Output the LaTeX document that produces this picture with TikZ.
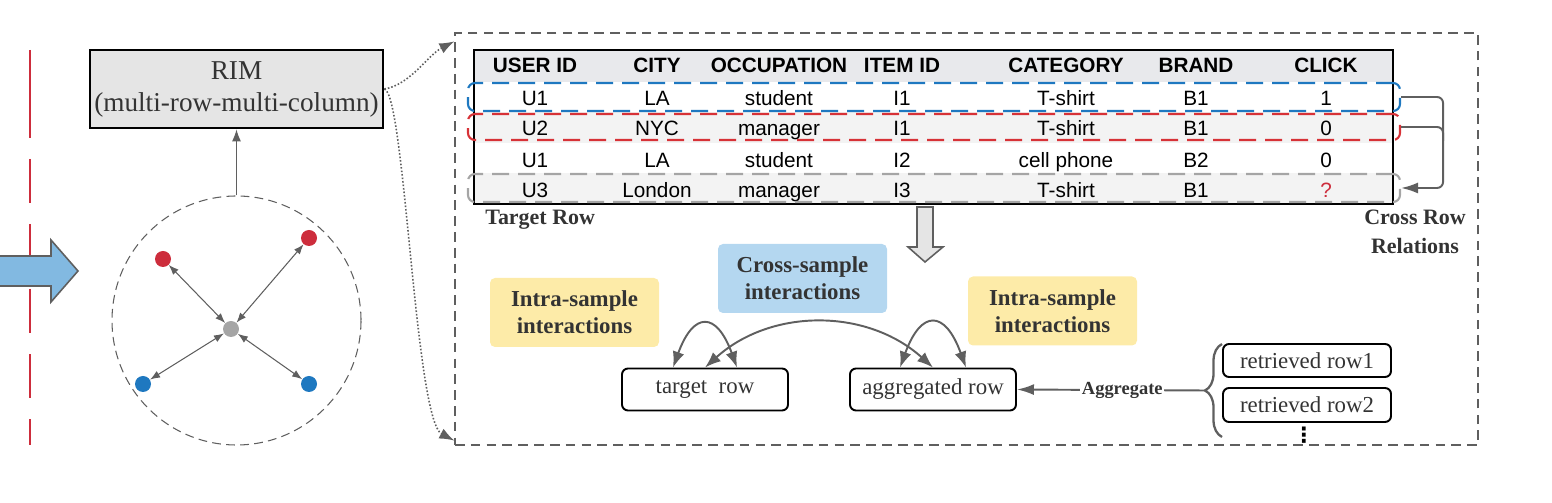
\documentclass[tikz,border=0pt]{standalone}
\usepackage{fontspec}
\setmainfont{Liberation Serif}
\setsansfont{Liberation Sans}
\newfontfamily\symfont{DejaVu Sans}
\usetikzlibrary{positioning, arrows.meta, calc, decorations.pathreplacing}

\definecolor{qred}{RGB}{205,45,60}
\definecolor{qredhl}{RGB}{215,50,55}
\definecolor{qblue}{RGB}{30,120,192}
\definecolor{qgray}{RGB}{165,165,165}
\definecolor{qdark}{RGB}{51,51,51}
\definecolor{qline}{RGB}{95,95,95}
\definecolor{qbox}{RGB}{229,229,229}
\definecolor{qhead}{RGB}{232,233,236}
\definecolor{qstripe}{RGB}{243,243,243}
\definecolor{qyellow}{RGB}{253,235,168}
\definecolor{qsky}{RGB}{180,215,240}
\definecolor{qarrow}{RGB}{130,185,225}

\tikzset{
  rimbox/.style={draw, line width=1.6pt, fill=qbox, minimum width=5.86cm, minimum height=1.56cm,
    inner sep=1pt, align=center, text=qdark, font=\fontsize{15.5}{18.2}\selectfont},
  cloud/.style={draw=qline, circle, line width=0.6pt, dash pattern=on 5pt off 3pt, minimum size=4.98cm},
  dot/.style={circle, minimum size=0.32cm, inner sep=0pt},
  thinarrow/.style={draw=qline, line width=0.6pt, -{Latex[length=0.24cm, width=0.18cm]}},
  duo/.style={draw=qline, line width=0.6pt, {Latex[length=0.2cm, width=0.15cm]}-{Latex[length=0.2cm, width=0.15cm]}},
  dotlink/.style={draw=qline, line width=0.9pt, dash pattern=on 0.9pt off 1.1pt, -{Latex[length=0.3cm, width=0.22cm]}},
  panel/.style={draw=qline, line width=0.7pt, dash pattern=on 5.5pt off 3.5pt, minimum width=20.46cm, minimum height=8.24cm},
  celltext/.style={anchor=base, inner sep=0pt, font=\fontsize{11.8}{14}\sffamily},
  headtext/.style={celltext, font=\fontsize{11.8}{14}\sffamily\bfseries},
  hilite/.style={draw, line width=1.2pt, dash pattern=on 0.34cm off 0.18cm, rounded corners=0.14cm,
    minimum width=18.64cm, inner sep=0pt},
  bus/.style={draw=qline, line width=1.1pt, rounded corners=0.12cm},
  tag/.style={font=\fontsize{12.5}{16.5}\selectfont\bfseries, text=qdark, align=center, inner sep=0pt},
  tagbox/.style={rounded corners=0.1cm, minimum width=3.38cm, minimum height=1.38cm, align=center,
    text=qdark, font=\fontsize{13}{15.4}\selectfont\bfseries},
  rowbox/.style={draw, line width=1.1pt, rounded corners=0.12cm, minimum width=3.32cm, minimum height=0.84cm,
    text=qdark, font=\fontsize{13}{15}\selectfont},
  loopy/.style={draw=qline, line width=1.1pt, {Latex[length=0.32cm, width=0.24cm]}-{Latex[length=0.32cm, width=0.24cm]}},
  aggarrow/.style={draw=qline, line width=1.1pt, -{Latex[length=0.34cm, width=0.22cm]}},
  brace/.style={draw=qline, line width=1.3pt, decorate, decoration={brace, amplitude=0.34cm}}
}

\begin{document}
\begin{tikzpicture}[x=0.2mm, y=0.2mm]

  % --- 0. MARCO (1552 x 503 px) ---
  \useasboundingbox (0,0) rectangle (1552,503);

  % --- 1. LINEA ROJA Y FLECHA DE ENTRADA ---
  \draw[qred, line width=1.5pt, dash pattern=on 1.76cm off 0.42cm on 0.88cm off 0.42cm on 0.88cm off 0.42cm
    on 0.88cm off 0.42cm on 0.88cm off 0.42cm on 0.88cm off 0.42cm] (30,453) -- (30,58);
  \draw[qline, line width=0.9pt, fill=qarrow] (-10,247) -- (51,247) -- (51,263) -- (78,232)
    -- (51,201) -- (51,217) -- (-10,217) -- cycle;

  % --- 2. RIM Y GRAFO DE MUESTRAS ---
  \node[rimbox] (rim) at (236.5,414) {RIM\\(multi-row-multi-column)};
  \node[cloud] (cloud) at (236.5,182.5) {};
  \draw[thinarrow] (cloud.north) -- (rim.south);

  \node[dot, fill=qgray] (ctr) at (231,174) {};
  \node[dot, fill=qred] (redA) at (309,265) {};
  \node[dot, fill=qred] (redB) at (163,244) {};
  \node[dot, fill=qblue] (blueA) at (143,119) {};
  \node[dot, fill=qblue] (blueB) at (309,119) {};
  \foreach \n in {redA, redB, blueA, blueB}
    \draw[duo] (ctr) -- (\n);

  % --- 3. PANEL DE DETALLE ---
  \node[panel] (panel) at (966.5,264) {};
  \draw[dotlink] (rim.east) .. controls (410,418) and (428,448) .. ($(panel.north west)+(0,-9)$);
  \draw[dotlink] (rim.east) .. controls (405,408) and (415,83) .. ($(panel.south west)+(0,5)$);

  % --- 4. TABLA ---
  \fill[qhead] (474,453) rectangle (1393,421);
  \fill[qstripe] (474,391) rectangle (1393,360);
  \fill[qstripe] (474,330) rectangle (1393,299);
  \draw[line width=0.6pt] (474,453) rectangle (1393,299);

  \foreach \x/\t [count=\c] in {535/USER ID, 657/CITY, 779/OCCUPATION, 902/ITEM ID, 1066/CATEGORY, 1196/BRAND, 1326/CLICK}
    \node[headtext] (h\c) at (\x,430) {\t};
  \foreach \x/\t [count=\c] in {535/U1, 657/LA, 779/student, 902/I1, 1066/T-shirt, 1196/B1, 1326/1}
    \node[celltext] (a\c) at (\x,397) {\t};
  \foreach \x/\t [count=\c] in {535/U2, 657/NYC, 779/manager, 902/I1, 1066/T-shirt, 1196/B1, 1326/0}
    \node[celltext] (b\c) at (\x,367) {\t};
  \foreach \x/\t [count=\c] in {535/U1, 657/LA, 779/student, 902/I2, 1066/cell phone, 1196/B2, 1326/0}
    \node[celltext] (c\c) at (\x,335) {\t};
  \foreach \x/\t [count=\c] in {535/U3, 657/London, 779/manager, 902/I3, 1066/T-shirt, 1196/B1, 1326/{\textcolor{qred}{?}}}
    \node[celltext] (d\c) at (\x,305) {\t};

  % Filas resaltadas
  \node[hilite, draw=qblue, minimum height=0.56cm] (hlU1) at (934,406) {};
  \node[hilite, draw=qredhl, minimum height=0.52cm] (hlU2) at (934,376) {};
  \node[hilite, draw=qgray, minimum height=0.56cm] (hlT) at (934,315) {};

  % Relaciones entre filas
  \draw[bus, -{Latex[length=0.34cm, width=0.22cm]}] (hlU1.east) -- ++(42,0) |- (hlT.east);
  \draw[bus] (hlU2.east) -- ++(42,0) -- ++(0,-14);
  \node[tag] (crossLbl) at (1415,271) {Cross Row\\Relations};
  \node[tag, anchor=west] (targetLbl) at (485,283) {Target Row};

  % --- 5. INTERACCIONES ---
  \draw[qline, line width=0.9pt, fill=qbox] (917,296) -- (933,296) -- (933,256) -- (943,256)
    -- (925,241) -- (908,256) -- (917,256) -- cycle;

  \node[tagbox, fill=qsky] (cross) at (802.5,224.5) {Cross-sample\\interactions};
  \node[tagbox, fill=qyellow] (intraL) at (574.5,190.5) {Intra-sample\\interactions};
  \node[tagbox, fill=qyellow] (intraR) at (1052.5,192) {Intra-sample\\interactions};

  \node[rowbox] (tgt) at (705,113.5) {target\ \ row};
  \node[rowbox] (agg) at (933,113.5) {aggregated row};
  \node[rowbox, minimum width=3.36cm, minimum height=0.66cm] (ret1) at (1307,142.5) {retrieved row1};
  \node[rowbox, minimum width=3.36cm, minimum height=0.68cm] (ret2) at (1307,98) {retrieved row2};
  \node[font=\fontsize{12}{14}\symfont\bfseries, inner sep=0pt] (more) at (1304,68) {⋮};

  \draw[loopy] ($(tgt.north)+(-32,0)$) to[out=70, in=110, looseness=2.4] ($(tgt.north)+(32,0)$);
  \draw[loopy] (tgt.north) to[bend left=42] (agg.north);
  \draw[loopy] ($(agg.north)+(-33,0)$) to[out=70, in=110, looseness=2.4] ($(agg.north)+(33,0)$);

  % Agregacion de filas recuperadas
  \draw[brace] (1222,66) -- (1222,159);
  \coordinate (tip) at (1205,112.5);
  \draw[aggarrow] (tip) -- (agg.east)
    node[pos=0.44, fill=white, inner sep=1pt, text=qdark, font=\fontsize{10.5}{12}\selectfont\bfseries] (aggLbl) {Aggregate};

\end{tikzpicture}
\end{document}
